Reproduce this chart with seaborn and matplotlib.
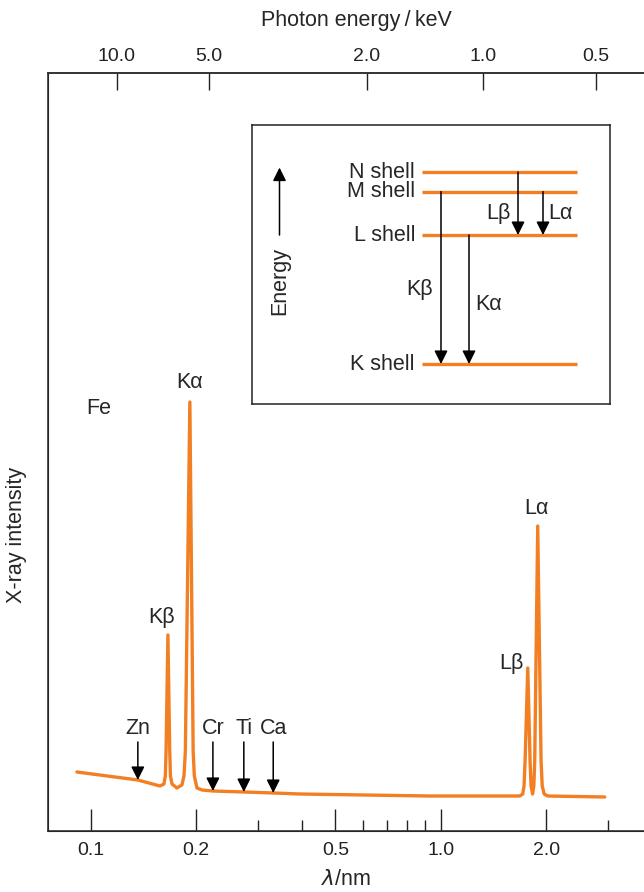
import matplotlib
matplotlib.use("Agg")
import matplotlib.pyplot as plt
from matplotlib.ticker import NullFormatter, NullLocator
import seaborn as sns
import pandas as pd

# Fe X-ray emission spectrum (wavelength in nm, intensity arb. units)
wavelength = [0.0912, 0.1362, 0.1575, 0.1617, 0.1632, 0.1640, 0.1660, 0.1680, 0.1688, 0.1705,
              0.1761, 0.1820, 0.1845, 0.1862, 0.1918, 0.1960, 0.1975, 0.2010, 0.2080, 0.2232,
              0.2736, 0.3333, 0.3955, 0.9303, 1.681, 1.715, 1.730, 1.742, 1.773, 1.800,
              1.812, 1.830, 1.845, 1.856, 1.893, 1.935, 1.950, 1.975, 2.020, 2.942]
intensity = [59, 51, 45, 47, 55, 80, 196, 80, 55, 47,
             43, 46, 55, 80, 429, 80, 55, 43, 41, 40,
             39, 38, 37, 35, 35, 37, 45, 70, 163, 70,
             45, 37, 45, 70, 305, 70, 45, 37, 35, 34]

# emission lines labelled on the spectrum
peak_names = ["K\u03b2", "K\u03b1", "L\u03b2", "L\u03b1"]
peak_label_wl = [0.1596, 0.1918, 1.596, 1.877]
peak_label_int = [213, 448, 168, 323]

# element edges marked with arrows
elements = ["Zn", "Cr", "Ti", "Ca"]
element_wl = [0.1362, 0.2232, 0.2736, 0.3320]
element_int = [51, 40, 39, 38]

# axis ticks
wl_ticks = [0.1, 0.2, 0.5, 1.0, 2.0]
wl_labels = ["0.1", "0.2", "0.5", "1.0", "2.0"]
wl_minor = [0.3, 0.4, 0.6, 0.7, 0.8, 0.9, 3.0]
energy_labels = ["10.0", "5.0", "2.0", "1.0", "0.5"]
energy_tick_wl = [0.1186, 0.2173, 0.615, 1.317, 2.78]   # where the keV ticks sit in the drawing

# energy level diagram (arb. energy units)
shells = ["K shell", "L shell", "M shell", "N shell"]
shell_energy = [0.0, 1.0, 1.337, 1.488]
transitions = ["K\u03b2", "K\u03b1", "L\u03b2", "L\u03b1"]
trans_from = ["M shell", "L shell", "N shell", "M shell"]
trans_to = ["K shell", "K shell", "L shell", "L shell"]

orange = "#f27f22"
FS = 15.5   # text size
TFS = 14    # tick label size

sns.set_style("ticks")
plt.rcParams["font.family"] = ["Liberation Sans", "DejaVu Sans"]
plt.rcParams["font.size"] = FS

fig = plt.figure(figsize=(6.44, 8.92), dpi=100)
ax = fig.add_axes([48 / 644, 1 - 831 / 892, 596 / 644, 758 / 892])

df = pd.DataFrame({"wl": wavelength, "I": intensity})
sns.lineplot(data=df, x="wl", y="I", sort=False, estimator=None,
             color=orange, lw=2.4, ax=ax)
ax.set_xscale("log")
ax.set_xlim(0.0754, 3.81)
ax.set_ylim(0, 758)

ax.set_xticks(wl_ticks)
ax.set_xticklabels(wl_labels)
ax.set_xticks(wl_minor, minor=True)
ax.xaxis.set_minor_formatter(NullFormatter())
ax.tick_params(axis="x", which="major", direction="in", length=16, width=1,
               pad=8, labelsize=TFS, colors="#222222")
ax.tick_params(axis="x", which="minor", direction="in", length=8, width=1,
               colors="#222222")
ax.set_yticks([])
ax.set_xlabel("$\\lambda$/nm", fontsize=FS)
ax.xaxis.set_label_coords(0.5, -0.05)
ax.set_ylabel("X-ray intensity", fontsize=FS)
ax.yaxis.set_label_coords(-0.035, 0.39)

for side in ["left", "bottom", "top"]:
    ax.spines[side].set_color("#333333")
    ax.spines[side].set_linewidth(1.2)
ax.spines["right"].set_visible(False)

# top axis in photon energy
ax2 = ax.twiny()
ax2.set_xscale("log")
ax2.set_xlim(ax.get_xlim())
ax2.set_xticks(energy_tick_wl)
ax2.set_xticklabels(energy_labels)
ax2.xaxis.set_minor_locator(NullLocator())
ax2.tick_params(axis="x", direction="in", length=12, width=1, pad=6,
                labelsize=TFS, colors="#222222")
ax2.set_xlabel("Photon energy\u2009/\u2009keV", fontsize=FS)
ax2.xaxis.set_label_coords(0.517, 1.062)
ax2.spines["right"].set_visible(False)
ax2.spines["top"].set_color("#333333")
ax2.spines["top"].set_linewidth(1.2)

# labels on the spectrum
ax.text(0.1054, 422, "Fe", ha="center", va="center", fontsize=FS)
for name, x, y in zip(peak_names, peak_label_wl, peak_label_int):
    ax.text(x, y, name, ha="center", va="center", fontsize=FS)

for name, x, y in zip(elements, element_wl, element_int):
    ax.text(x, 103, name, ha="center", va="center", fontsize=FS)
    ax.annotate("", xy=(x, y), xytext=(x, 89),
                arrowprops=dict(arrowstyle="-|>", color="black", lw=1.1,
                                mutation_scale=20, shrinkA=0, shrinkB=0))

# inset: energy level diagram
ins = fig.add_axes([252 / 644, 1 - 404 / 892, 358 / 644, 279 / 892])
ins.set_xlim(0, 358)
ins.set_ylim(-0.31, 1.853)
ins.set_xticks([])
ins.set_yticks([])
for s in ins.spines.values():
    s.set_color("#222222")
    s.set_linewidth(1.1)

level = dict(zip(shells, shell_energy))
ins.hlines(shell_energy, 170, 325, color=orange, lw=2.4)
for name, e in zip(shells, shell_energy):
    ins.text(163, e, name, ha="right", va="center", fontsize=FS)

trans_x = [189, 217, 266, 291]
trans_label_pos = [(168, 0.574), (237, 0.465), (246, 1.17), (308, 1.17)]
for name, f, t, x, (lx, ly) in zip(transitions, trans_from, trans_to, trans_x, trans_label_pos):
    ins.annotate("", xy=(x, level[t]), xytext=(x, level[f]),
                 arrowprops=dict(arrowstyle="-|>", color="black", lw=1.1,
                                 mutation_scale=20, shrinkA=0, shrinkB=0))
    ins.text(lx, ly, name, ha="center", va="center", fontsize=FS)

ins.annotate("", xy=(27.5, 1.523), xytext=(27.5, 1.0),
             arrowprops=dict(arrowstyle="-|>", color="black", lw=1.1,
                             mutation_scale=20, shrinkA=0, shrinkB=0))
ins.text(27.5, 0.646, "Energy", rotation=90, ha="center", va="center", fontsize=FS)

fig.savefig("out.png", dpi=100)
